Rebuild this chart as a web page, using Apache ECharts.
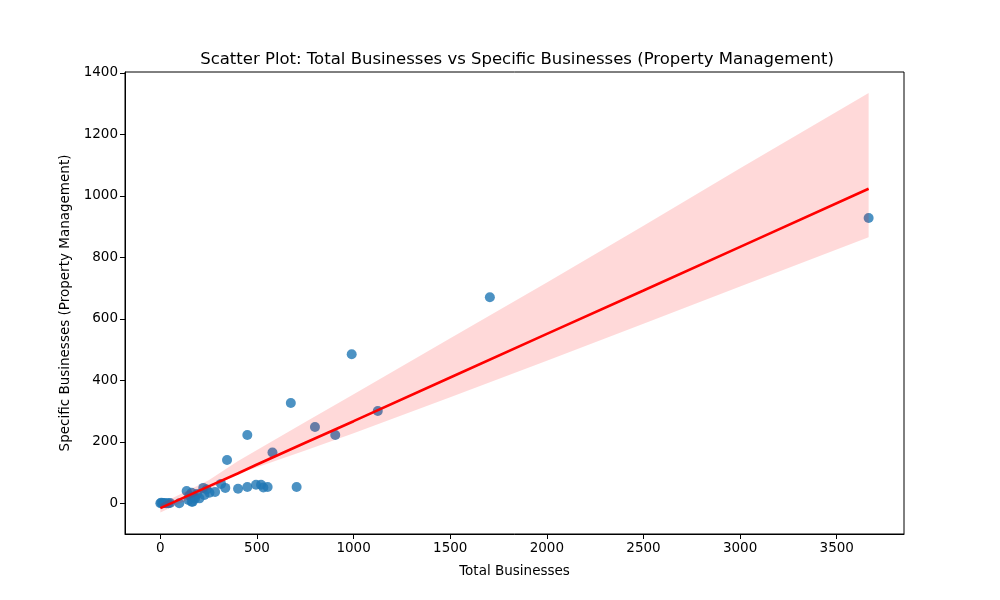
<!DOCTYPE html>
<html>
<head>
<meta charset="utf-8">
<script src="https://cdn.jsdelivr.net/npm/echarts@6/dist/echarts.min.js"></script>
<style>
  html, body { margin: 0; padding: 0; background: #fff; }
  #chart { width: 1000px; height: 600px; }
</style>
</head>
<body>
<div id="chart"></div>
<script>
// scatter points: [total, specific]
var totalBusinesses = [0, 5, 12, 20, 30, 41, 50, 98, 136, 145, 150, 162, 162, 167, 175, 180, 190, 202, 222, 228, 240, 254, 283, 314, 336, 345, 402, 450, 450, 495, 521, 533, 555, 580, 675, 705, 800, 905, 990, 1125, 1705, 3665];
var specificBusinesses = [0, 2, 0, 1, 0, 0, 1, 0, 40, 11, 25, 34, 5, 5, 20, 16, 30, 16, 50, 27, 45, 34, 37, 63, 50, 141, 47, 222, 53, 60, 60, 51, 53, 165, 326, 53, 248, 222, 485, 300, 670, 928];

// regression fit and confidence band
var bandX = [0, 250, 400, 500, 750, 1000, 1500, 2000, 2500, 3000, 3665];
var fitY = [-16, 55, 97, 126, 197, 267, 409, 551, 692, 834, 1023];
var bandUpper = [-2, 75, 137, 173, 264, 355, 537, 718, 903, 1090, 1335];
var bandLower = [-30, 44, 96, 117, 172, 228, 345, 464, 584, 705, 865];

var xTicks = [0, 500, 1000, 1500, 2000, 2500, 3000, 3500];
var yTicks = [0, 200, 400, 600, 800, 1000, 1200, 1400];

var points = totalBusinesses.map(function (x, i) { return [x, specificBusinesses[i]]; });
var fitLine = bandX.map(function (x, i) { return [x, fitY[i]]; });

var font = "DejaVu Sans";
var myChart = echarts.init(document.getElementById("chart"));

// band polygon: upper edge left to right, then lower edge back
function renderBand(params, api) {
  var pts = [];
  for (var i = 0; i < bandX.length; i++) {
    pts.push(api.coord([bandX[i], bandUpper[i]]));
  }
  for (var j = bandX.length - 1; j >= 0; j--) {
    pts.push(api.coord([bandX[j], bandLower[j]]));
  }
  return {
    type: "polygon",
    shape: { points: pts },
    style: { fill: "rgba(255,0,0,0.15)", stroke: "none" },
    silent: true,
  };
}

var option = {
  backgroundColor: "#ffffff",
  animation: false,
  textStyle: { fontFamily: font },
  title: {
    text: "Scatter Plot: Total Businesses vs Specific Businesses (Property Management)",
    left: 512,
    textAlign: "center",
    top: 46,
    textStyle: { fontFamily: font, fontSize: 16.5, fontWeight: "normal", color: "#000" },
  },
  grid: {
    left: 125,
    right: 96,
    top: 72,
    bottom: 66,
    show: true,
    borderColor: "#000",
    borderWidth: 1,
  },
  xAxis: {
    type: "value",
    min: -183,
    max: 3848,
    name: "Total Businesses",
    nameLocation: "middle",
    nameGap: 30,
    nameTextStyle: { fontFamily: font, fontSize: 13.5, color: "#000" },
    axisLine: { show: true, onZero: false, lineStyle: { color: "#000", width: 1 } },
    axisTick: { show: true, length: 5, customValues: xTicks, lineStyle: { color: "#000" } },
    axisLabel: {
      customValues: xTicks,
      formatter: function (v) { return String(v); },
      fontFamily: font, fontSize: 13.5, color: "#000", margin: 7,
    },
    splitLine: { show: false },
  },
  yAxis: {
    type: "value",
    min: -100,
    max: 1403,
    name: "Specific Businesses (Property Management)",
    nameLocation: "middle",
    nameGap: 52,
    nameTextStyle: { fontFamily: font, fontSize: 13.5, color: "#000" },
    axisLine: { show: true, onZero: false, lineStyle: { color: "#000", width: 1 } },
    axisTick: { show: true, length: 5, customValues: yTicks, lineStyle: { color: "#000" } },
    axisLabel: {
      customValues: yTicks,
      formatter: function (v) { return String(v); },
      fontFamily: font, fontSize: 13.5, color: "#000", margin: 7,
    },
    splitLine: { show: false },
  },
  series: [
    {
      type: "scatter",
      data: points,
      symbolSize: 10,
      itemStyle: { color: "#1f77b4", opacity: 0.8 },
      z: 1,
    },
    {
      type: "custom",
      data: [[0, 0]],
      renderItem: renderBand,
      clip: true,
      z: 2,
    },
    {
      type: "line",
      data: fitLine,
      symbol: "none",
      lineStyle: { color: "#ff0000", width: 2.6 },
      z: 3,
    },
  ],
};

option && myChart.setOption(option);
</script>
</body>
</html>
